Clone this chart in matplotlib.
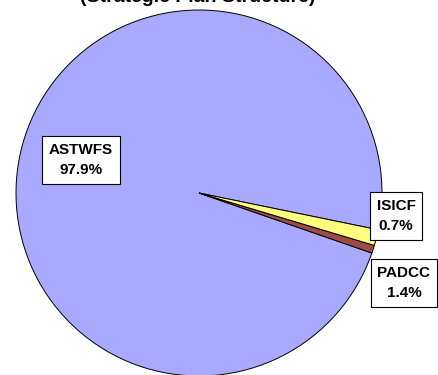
import matplotlib
matplotlib.use("Agg")
import matplotlib.pyplot as plt

# slice data (shares in percent)
names = ["ASTWFS", "ISICF", "PADCC"]
shares = [97.9, 0.7, 1.4]
colors = ["#A9A9FF", "#A04A48", "#FFFF80"]

# label box centres in pixel coords (x, y from top)
label_pos = [(81, 160), (396, 216), (404, 283)]

W, H = 439, 375

fig = plt.figure(figsize=(W / 100, H / 100), dpi=100)
ax = fig.add_axes([0, 0, 1, 1])

ax.pie(shares, colors=colors, center=(199, H - 193), radius=183,
       startangle=-11.6, counterclock=True, frame=True,
       wedgeprops=dict(edgecolor="black", linewidth=0.7))

ax.set_xlim(0, W)
ax.set_ylim(0, H)
ax.axis("off")

for name, val, (px, py) in zip(names, shares, label_pos):
    ax.text(px, H - py, f"{name}\n{val}%", ha="center", va="center",
            fontsize=11, fontweight="bold", family="Liberation Sans",
            linespacing=1.5,
            bbox=dict(boxstyle="square,pad=0.45", fc="white", ec="black", lw=0.8))

# title is mostly clipped by the top edge, as in the original
ax.text(198, H - 1.5, "(Strategic Plan Structure)", ha="center", va="baseline",
        fontsize=14, fontweight="bold", family="Liberation Sans", clip_on=False)

fig.savefig("out.png", dpi=100)
